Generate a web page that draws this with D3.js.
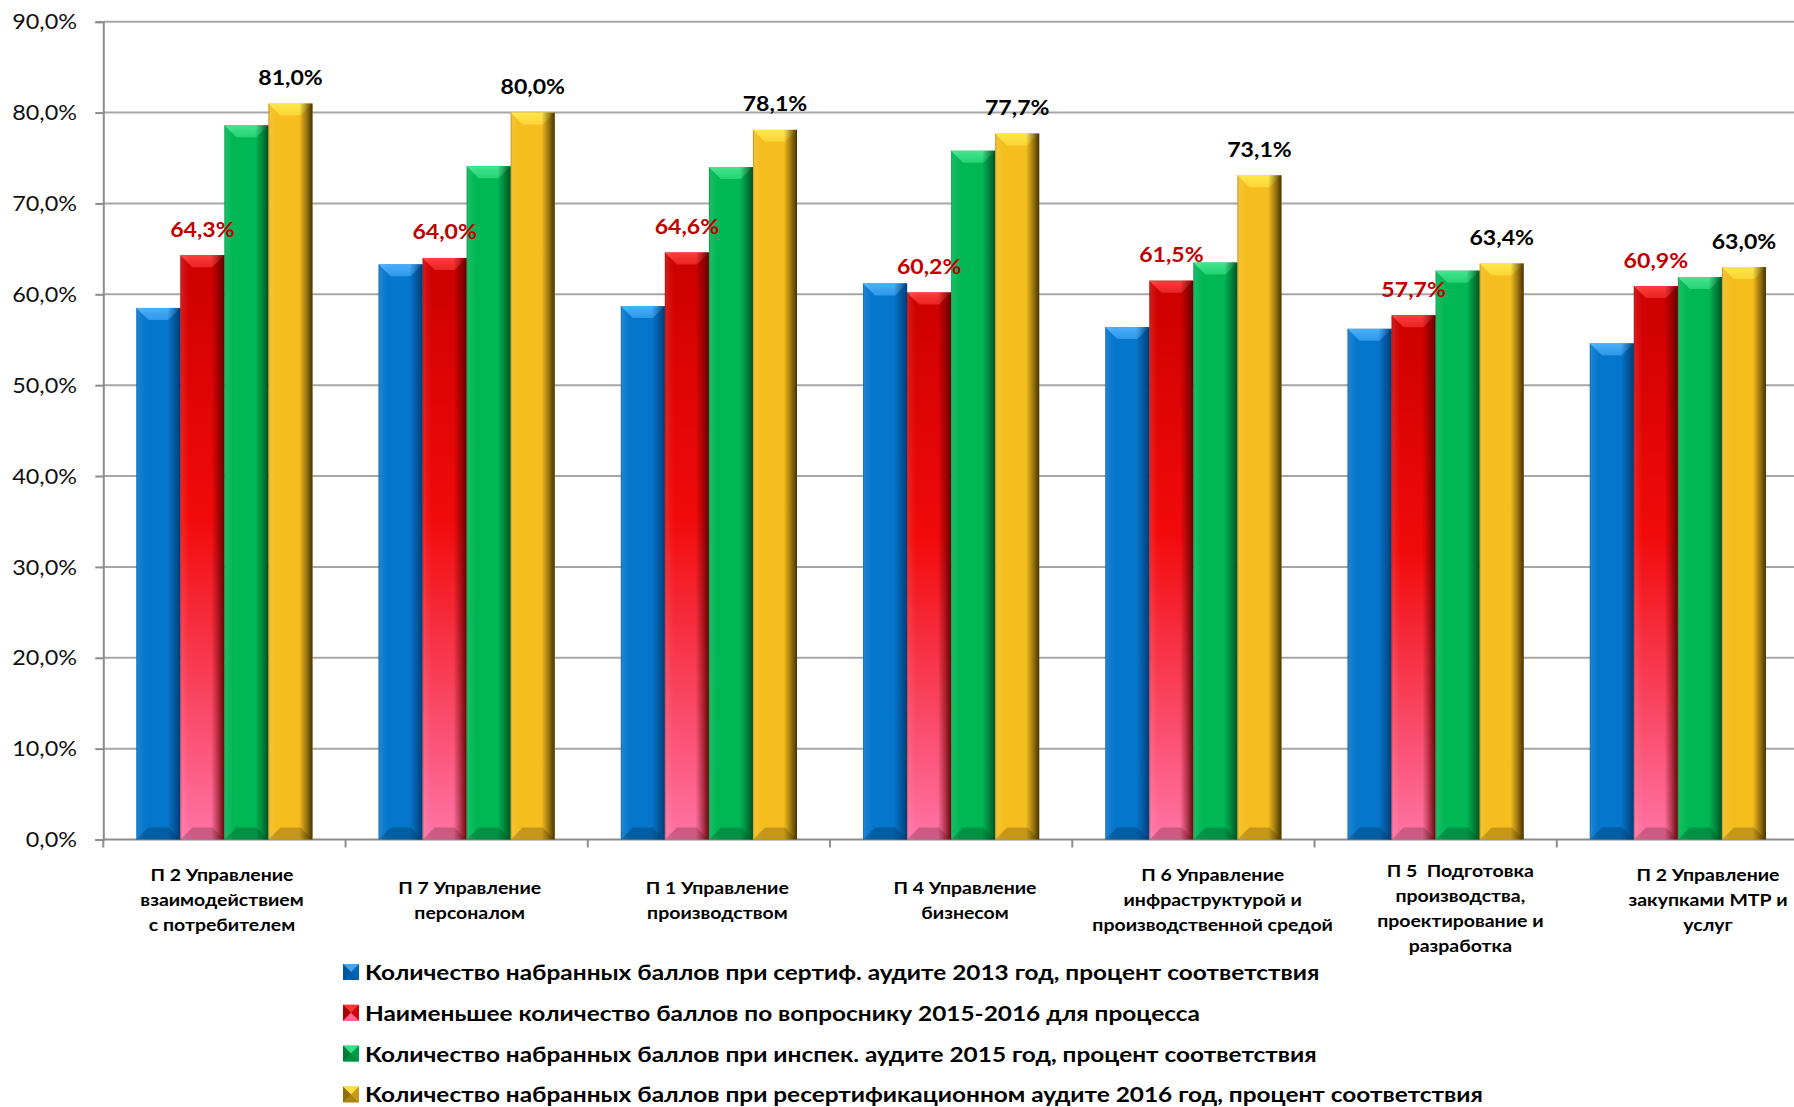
<!DOCTYPE html>
<html>
<head>
<meta charset="utf-8">
<script src="https://cdn.jsdelivr.net/npm/d3@7"></script>
<style>
  html, body { margin: 0; padding: 0; background: #fff; overflow: hidden; }
  svg { display: block; }
</style>
</head>
<body>
<svg id="chart" width="1794" height="1107"></svg>
<script>
// ---------- DATA ----------
const categories = [
  ["П 2 Управление", "взаимодействием", "с потребителем"],
  ["П 7 Управление", "персоналом"],
  ["П 1 Управление", "производством"],
  ["П 4 Управление", "бизнесом"],
  ["П 6 Управление", "инфраструктурой и", "производственной средой"],
  ["П 5  Подготовка", "производства,", "проектирование и", "разработка"],
  ["П 2 Управление", "закупками МТР и", "услуг"]
];
const seriesNames = [
  "Количество набранных баллов при сертиф. аудите 2013 год, процент соответствия",
  "Наименьшее количество баллов по вопроснику 2015-2016 для процесса",
  "Количество набранных баллов при инспек. аудите 2015 год, процент соответствия",
  "Количество набранных баллов при ресертификационном аудите 2016 год, процент соответствия"
];
const audit2013 = [58.5, 63.3, 58.7, 61.2, 56.4, 56.2, 54.6];
const questionnaire = [64.3, 64.0, 64.6, 60.2, 61.5, 57.7, 60.9];
const audit2015 = [78.6, 74.1, 74.0, 75.8, 63.5, 62.6, 61.9];
const audit2016 = [81.0, 80.0, 78.1, 77.7, 73.1, 63.4, 63.0];
const yTicks = [0, 10, 20, 30, 40, 50, 60, 70, 80, 90];

const seriesValues = [audit2013, questionnaire, audit2015, audit2016];
const labelledSeries = [1, 3];

// ---------- LAYOUT ----------
const svg = d3.select("#chart");
const W = 1794, H = 1107;
const plot = { left: 103.3, right: 1799, top: 21.7, bottom: 839.5 };
const fontFamily = "Lato, 'Open Sans', sans-serif";

const y = d3.scaleLinear().domain([0, 90]).range([plot.bottom, plot.top]);
const x0 = d3.scaleBand().domain(d3.range(categories.length)).range([plot.left, plot.right]).padding(0);
const x1 = d3.scaleBand().domain(d3.range(4)).range([0, x0.bandwidth()]).paddingInner(0).paddingOuter(0.75);
const xLabel = d3.scalePoint().domain(d3.range(categories.length)).range([222, 1708]);
const fmt = v => v.toFixed(1).replace(".", ",") + "%";

const palette = [
  { base: ["#0676cc", "#0676cc", "#0676cc"], light: "#4db3ff", dark: "#003a70", label: "#000" },
  { base: ["#cc0000", "#f20a0a", "#ff74a6"], light: "#ff4040", dark: "#600000", label: "#c00000" },
  { base: ["#00b755", "#00b755", "#00b755"], light: "#45e890", dark: "#004d20", label: "#000" },
  { base: ["#f5bd1e", "#f5bd1e", "#f5bd1e"], light: "#ffe94a", dark: "#3d2c00", label: "#000" }
];

const defs = svg.append("defs");
palette.forEach((p, i) => {
  const g = defs.append("linearGradient").attr("id", "base" + i)
    .attr("x1", 0).attr("y1", 0).attr("x2", 0).attr("y2", 1);
  g.append("stop").attr("offset", 0).attr("stop-color", p.base[0]);
  g.append("stop").attr("offset", 0.45).attr("stop-color", p.base[1]);
  g.append("stop").attr("offset", 1).attr("stop-color", p.base[2]);
  const s = defs.append("linearGradient").attr("id", "shade" + i)
    .attr("x1", 0).attr("y1", 0).attr("x2", 1).attr("y2", 0);
  s.append("stop").attr("offset", 0).attr("stop-color", p.dark).attr("stop-opacity", 0.35);
  s.append("stop").attr("offset", 0.05).attr("stop-color", "#fff").attr("stop-opacity", 0.08);
  s.append("stop").attr("offset", 0.2).attr("stop-color", "#fff").attr("stop-opacity", 0);
  s.append("stop").attr("offset", 0.7).attr("stop-color", p.dark).attr("stop-opacity", 0);
  s.append("stop").attr("offset", 0.85).attr("stop-color", p.dark).attr("stop-opacity", 0.45);
  s.append("stop").attr("offset", 1).attr("stop-color", p.dark).attr("stop-opacity", 0.95);
  const t = defs.append("linearGradient").attr("id", "top" + i)
    .attr("x1", 0).attr("y1", 0).attr("x2", 0).attr("y2", 1);
  t.append("stop").attr("offset", 0).attr("stop-color", p.light).attr("stop-opacity", 0.95);
  t.append("stop").attr("offset", 1).attr("stop-color", p.light).attr("stop-opacity", 0.55);
});

// helper: horizontally stretched text (reference typography is wide)
function stretchedText(sel, sx) {
  return sel.attr("transform", function () {
    const x = +d3.select(this).attr("data-x"), yy = +d3.select(this).attr("data-y");
    return `translate(${x},${yy}) scale(${sx},1)`;
  });
}

// ---------- GRID ----------
const grid = svg.append("g");
grid.selectAll("line").data(yTicks.filter(d => d > 0)).join("line")
  .attr("x1", plot.left).attr("x2", W + 10)
  .attr("y1", d => y(d)).attr("y2", d => y(d))
  .attr("stroke", "#a6a6a6").attr("stroke-width", 2);

// ---------- AXES ----------
const yAxis = d3.axisLeft(y).tickValues(yTicks).tickSize(8).tickFormat("");
const gy = svg.append("g").attr("transform", `translate(${plot.left},0)`).call(yAxis);
gy.select(".domain").attr("stroke", "#8c8c8c").attr("stroke-width", 2);
gy.selectAll(".tick line").attr("stroke", "#8c8c8c").attr("stroke-width", 2);

const tickLabels = svg.append("g").selectAll("text").data(yTicks).join("text")
  .attr("data-x", 77).attr("data-y", d => y(d) + 7.6)
  .attr("text-anchor", "end")
  .attr("font-family", fontFamily).attr("font-size", 21.3)
  .attr("fill", "#111").text(fmt);
stretchedText(tickLabels, 1.1);

// x axis line and ticks at category boundaries
const gx = svg.append("g");
gx.append("line").attr("x1", plot.left).attr("x2", W + 10)
  .attr("y1", plot.bottom).attr("y2", plot.bottom)
  .attr("stroke", "#8c8c8c").attr("stroke-width", 2);
gx.selectAll("line.tk").data(d3.range(categories.length + 1)).join("line").attr("class", "tk")
  .attr("x1", d => plot.left + d * x0.step()).attr("x2", d => plot.left + d * x0.step())
  .attr("y1", plot.bottom).attr("y2", plot.bottom + 8)
  .attr("stroke", "#8c8c8c").attr("stroke-width", 2);

// ---------- BARS ----------
const bev = 12;
const barData = [];
seriesValues.forEach((vals, s) => vals.forEach((v, c) => barData.push({ s, c, v })));

const bars = svg.append("g").selectAll("g").data(barData).join("g")
  .attr("transform", d => `translate(${x0(d.c) + x1(d.s)},0)`);
const bw = x1.bandwidth();
bars.append("rect").attr("x", 0).attr("width", bw)
  .attr("y", d => y(d.v)).attr("height", d => y(0) - y(d.v))
  .attr("fill", d => `url(#base${d.s})`);
bars.append("polygon").attr("points", d => {
  const t = y(d.v);
  return `0,${t} ${bw},${t} ${bw - bev},${t + bev} ${bev},${t + bev}`;
}).attr("fill", d => `url(#top${d.s})`);
bars.append("polygon").attr("points", d => {
  const b = y(0);
  return `0,${b} ${bw},${b} ${bw - bev},${b - bev} ${bev},${b - bev}`;
}).attr("fill", "#000").attr("fill-opacity", 0.2);
bars.append("rect").attr("x", 0).attr("width", bw)
  .attr("y", d => y(d.v)).attr("height", d => y(0) - y(d.v))
  .attr("fill", d => `url(#shade${d.s})`);

// ---------- DATA LABELS ----------
const dataLabels = svg.append("g").selectAll("text")
  .data(barData.filter(d => labelledSeries.includes(d.s))).join("text")
  .attr("data-x", d => x0(d.c) + x1(d.s) + bw / 2)
  .attr("data-y", d => y(d.v) - 18.5)
  .attr("text-anchor", "middle")
  .attr("font-family", fontFamily).attr("font-weight", 700).attr("font-size", 21)
  .attr("fill", d => palette[d.s].label)
  .text(d => fmt(d.v));
stretchedText(dataLabels, 1.1);

// ---------- CATEGORY LABELS ----------
const lh = 25, centerY = 906, minFirst = 877;
const catLines = [];
categories.forEach((lines, i) => {
  const first = Math.max(centerY - (lines.length - 1) / 2 * lh, minFirst);
  lines.forEach((t, k) => catLines.push({ t, x: xLabel(i), y: first + k * lh }));
});
const catText = svg.append("g").selectAll("text").data(catLines).join("text")
  .attr("data-x", d => d.x).attr("data-y", d => d.y)
  .attr("text-anchor", "middle").attr("xml:space", "preserve")
  .attr("font-family", fontFamily).attr("font-weight", 700).attr("font-size", 16.5)
  .attr("fill", "#000").text(d => d.t);
stretchedText(catText, 1.18);

// ---------- LEGEND ----------
const legend = svg.append("g").selectAll("g").data(seriesNames).join("g")
  .attr("transform", (d, i) => `translate(343,${980 + i * 40.8})`);
const m = 16;
legend.append("rect").attr("x", 0).attr("y", -m).attr("width", m).attr("height", m)
  .attr("fill", (d, i) => palette[i].base[1]);
legend.append("polygon").attr("points", `0,${-m} ${m},${-m} ${m / 2},${-m / 2}`)
  .attr("fill", (d, i) => palette[i].light).attr("fill-opacity", 0.8);
legend.append("polygon").attr("points", `0,${-m} 0,0 ${m / 2},${-m / 2}`)
  .attr("fill", (d, i) => palette[i].dark).attr("fill-opacity", 0.55);
legend.append("polygon").attr("points", `${m},${-m} ${m},0 ${m / 2},${-m / 2}`)
  .attr("fill", (d, i) => palette[i].dark).attr("fill-opacity", 0.25);
legend.append("polygon").attr("points", `0,0 ${m},0 ${m / 2},${-m / 2}`)
  .attr("fill", (d, i) => i === 1 ? "#ff74a6" : palette[i].dark).attr("fill-opacity", (d, i) => i === 1 ? 0.9 : 0.4);
const legText = legend.append("text").attr("data-x", 22).attr("data-y", 0)
  .attr("font-family", fontFamily).attr("font-weight", 700).attr("font-size", 20)
  .attr("fill", "#000").text(d => d);
stretchedText(legText, 1.22);
</script>
</body>
</html>
